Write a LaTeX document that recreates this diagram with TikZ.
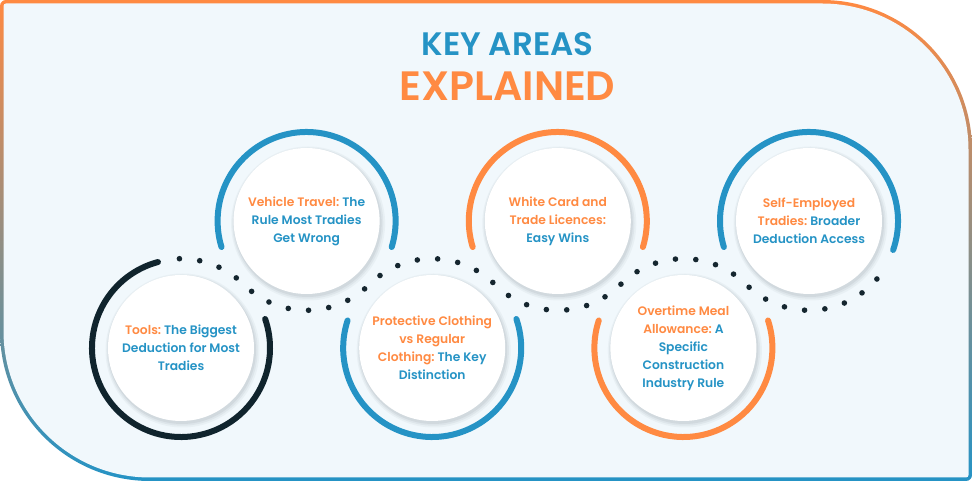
\documentclass[tikz,border=0pt]{standalone}
\usepackage{fontspec}
\setmainfont{Poppins}
\newfontfamily\popsb{Poppins SemiBold}
\usetikzlibrary{calc}
\frenchspacing
\definecolor{korange}{HTML}{FF8A42}
\definecolor{kblue}{HTML}{2593C5}
\definecolor{kdark}{HTML}{10242D}
\definecolor{kdot}{HTML}{15262F}
\definecolor{kbg}{HTML}{F1F8FC}
\definecolor{kshadow}{HTML}{AEB8BE}
\tikzset{
  disc/.style={circle, fill=white, minimum size=146pt, inner sep=0pt, align=center,
    font=\popsb\frenchspacing\fontsize{12.3}{18}\selectfont, text=kblue},
  ringline/.style={line width=6pt, line cap=round},
  dotline/.style={line width=5.6pt, line cap=round, kdot, dash pattern=on 0pt off 20.4pt},
  titleA/.style={font=\popsb\fontsize{32.5}{36}\selectfont, text=kblue, anchor=base},
  titleB/.style={font=\popsb\fontsize{41}{46}\selectfont, text=korange, anchor=base},
}
\newcommand{\hl}[1]{\textcolor{korange}{#1}}
\begin{document}
\begin{tikzpicture}[x=1pt,y=1pt]
\useasboundingbox (0,0) rectangle (972,481);
% frame
\shade[top color=korange, bottom color=kblue]
  (6,481) -- (822,481) arc[start angle=90,end angle=0,radius=150] -- (972,6)
  arc[start angle=0,end angle=-90,radius=6] -- (150,0)
  arc[start angle=270,end angle=180,radius=150] -- (0,475)
  arc[start angle=180,end angle=90,radius=6] -- cycle;
\fill[kbg]
  (6,477.5) -- (822,477.5) arc[start angle=90,end angle=0,radius=146.5] -- (968.5,6)
  arc[start angle=0,end angle=-90,radius=2.5] -- (150,3.5)
  arc[start angle=270,end angle=180,radius=146.5] -- (3.5,475)
  arc[start angle=180,end angle=90,radius=2.5] -- cycle;
% title
\node[titleA] (ta) at (507.5,425) {KEY AREAS};
\node[titleB] (tb) at (507.5,380) {EXPLAINED};
% centres
\coordinate (p1) at (181,133);
\coordinate (p2) at (306.6,260);
\coordinate (p3) at (432.2,133);
\coordinate (p4) at (557.8,260);
\coordinate (p5) at (683.4,133);
\coordinate (p6) at (809,260);
% shadows
\foreach \p in {p1,p2,p3,p4,p5,p6}{
  \fill[kshadow, opacity=0.12] ($(\p)+(1.5,-2.5)$) circle[radius=77];
  \fill[kshadow, opacity=0.18] ($(\p)+(1.2,-2.2)$) circle[radius=75.5];
  \fill[kshadow, opacity=0.25] ($(\p)+(1,-2)$) circle[radius=74];
}
% discs with text
\node[disc] (c1) at (p1) {\hl{Tools:} The Biggest\\Deduction for Most\\Tradies};
\node[disc] (c2) at (p2) {\hl{Vehicle Travel:} The\\Rule Most Tradies\\Get Wrong};
\node[disc] (c3) at (p3) {\hl{Protective Clothing}\\\hl{vs Regular}\\\hl{Clothing:} The Key\\Distinction};
\node[disc] (c4) at (p4) {\hl{White Card and}\\\hl{Trade Licences:}\\Easy Wins};
\node[disc] (c5) at (p5) {\hl{Overtime Meal}\\\hl{Allowance:} A\\Specific\\Construction\\Industry Rule};
\node[disc] (c6) at (p6) {\hl{Self-Employed}\\\hl{Tradies:} Broader\\Deduction Access};
% solid rings
\draw[ringline, kdark] (c1.center) ++(105:89) arc[start angle=105,end angle=379,radius=89];
\draw[ringline, kblue] (c2.center) ++(-17:89) arc[start angle=-17,end angle=197,radius=89];
\draw[ringline, kblue] (c3.center) ++(162:89) arc[start angle=162,end angle=379,radius=89];
\draw[ringline, korange] (c4.center) ++(-17:89) arc[start angle=-17,end angle=197,radius=89];
\draw[ringline, korange] (c5.center) ++(162:89) arc[start angle=162,end angle=378,radius=89];
\draw[ringline, kblue] (c6.center) ++(-19:89) arc[start angle=-19,end angle=197,radius=89];
% dotted wave
\draw[dotline] (c1.center) ++(91:89.3)
  arc[start angle=91,end angle=45.31,radius=89.3]
  arc[start angle=225.31,end angle=314.69,radius=89.3]
  arc[start angle=134.69,end angle=45.31,radius=89.3]
  arc[start angle=225.31,end angle=314.69,radius=89.3]
  arc[start angle=134.69,end angle=45.31,radius=89.3]
  arc[start angle=225.31,end angle=319.6,radius=89.3];
\end{tikzpicture}
\end{document}
